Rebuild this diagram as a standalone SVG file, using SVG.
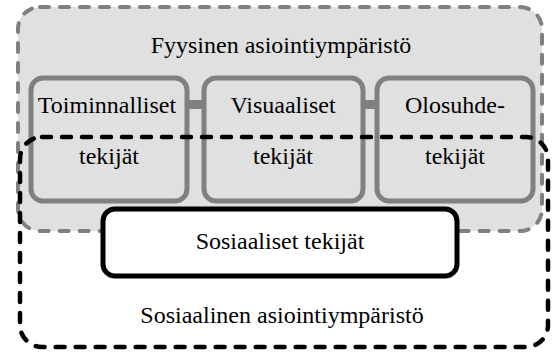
<svg xmlns="http://www.w3.org/2000/svg" width="555" height="354" viewBox="0 0 555 354">
<style>
.phys{fill:#e0e0e0;stroke:#808080;stroke-width:4;stroke-dasharray:9 11;stroke-linecap:round}
.soc{fill:none;stroke:#000;stroke-width:4.5;stroke-dasharray:9 11;stroke-linecap:round}
.fac{fill:#e0e0e0;stroke:#808080;stroke-width:5}
.bar{fill:#808080}
.sos{fill:#fff;stroke:#000;stroke-width:5}
</style>
<g id="fyysinen">
<rect class="phys" x="18" y="7" width="524" height="224" rx="22"/>
<text x="281" y="53" font-family="Liberation Serif" font-size="24" text-anchor="middle">Fyysinen asiointiympäristö</text>
</g>
<g id="connectors">
<rect class="bar" x="187" y="100" width="16" height="9"/>
<rect class="bar" x="363" y="100" width="13" height="9"/>
</g>
<g id="toiminnalliset">
<rect class="fac" x="31" y="78" width="156" height="123" rx="12"/>
<text x="107" y="113" font-family="Liberation Serif" font-size="24" text-anchor="middle">Toiminnalliset</text>
<text x="109" y="164" font-family="Liberation Serif" font-size="24" text-anchor="middle">tekijät</text>
</g>
<g id="visuaaliset">
<rect class="fac" x="204" y="78" width="159" height="123" rx="12"/>
<text x="283" y="113" font-family="Liberation Serif" font-size="24" text-anchor="middle">Visuaaliset</text>
<text x="283" y="164" font-family="Liberation Serif" font-size="24" text-anchor="middle">tekijät</text>
</g>
<g id="olosuhde">
<rect class="fac" x="377" y="78" width="156" height="123" rx="12"/>
<text x="455" y="113" font-family="Liberation Serif" font-size="24" text-anchor="middle">Olosuhde-</text>
<text x="455" y="164" font-family="Liberation Serif" font-size="24" text-anchor="middle">tekijät</text>
</g>
<g id="sosiaalinen">
<rect class="soc" x="20" y="137" width="528" height="210" rx="22"/>
<text x="282" y="323" font-family="Liberation Serif" font-size="24" text-anchor="middle">Sosiaalinen asiointiympäristö</text>
</g>
<g id="sosiaaliset">
<rect class="sos" x="103" y="209" width="354" height="67" rx="12"/>
<text x="280" y="249" font-family="Liberation Serif" font-size="24" text-anchor="middle">Sosiaaliset tekijät</text>
</g>
</svg>
